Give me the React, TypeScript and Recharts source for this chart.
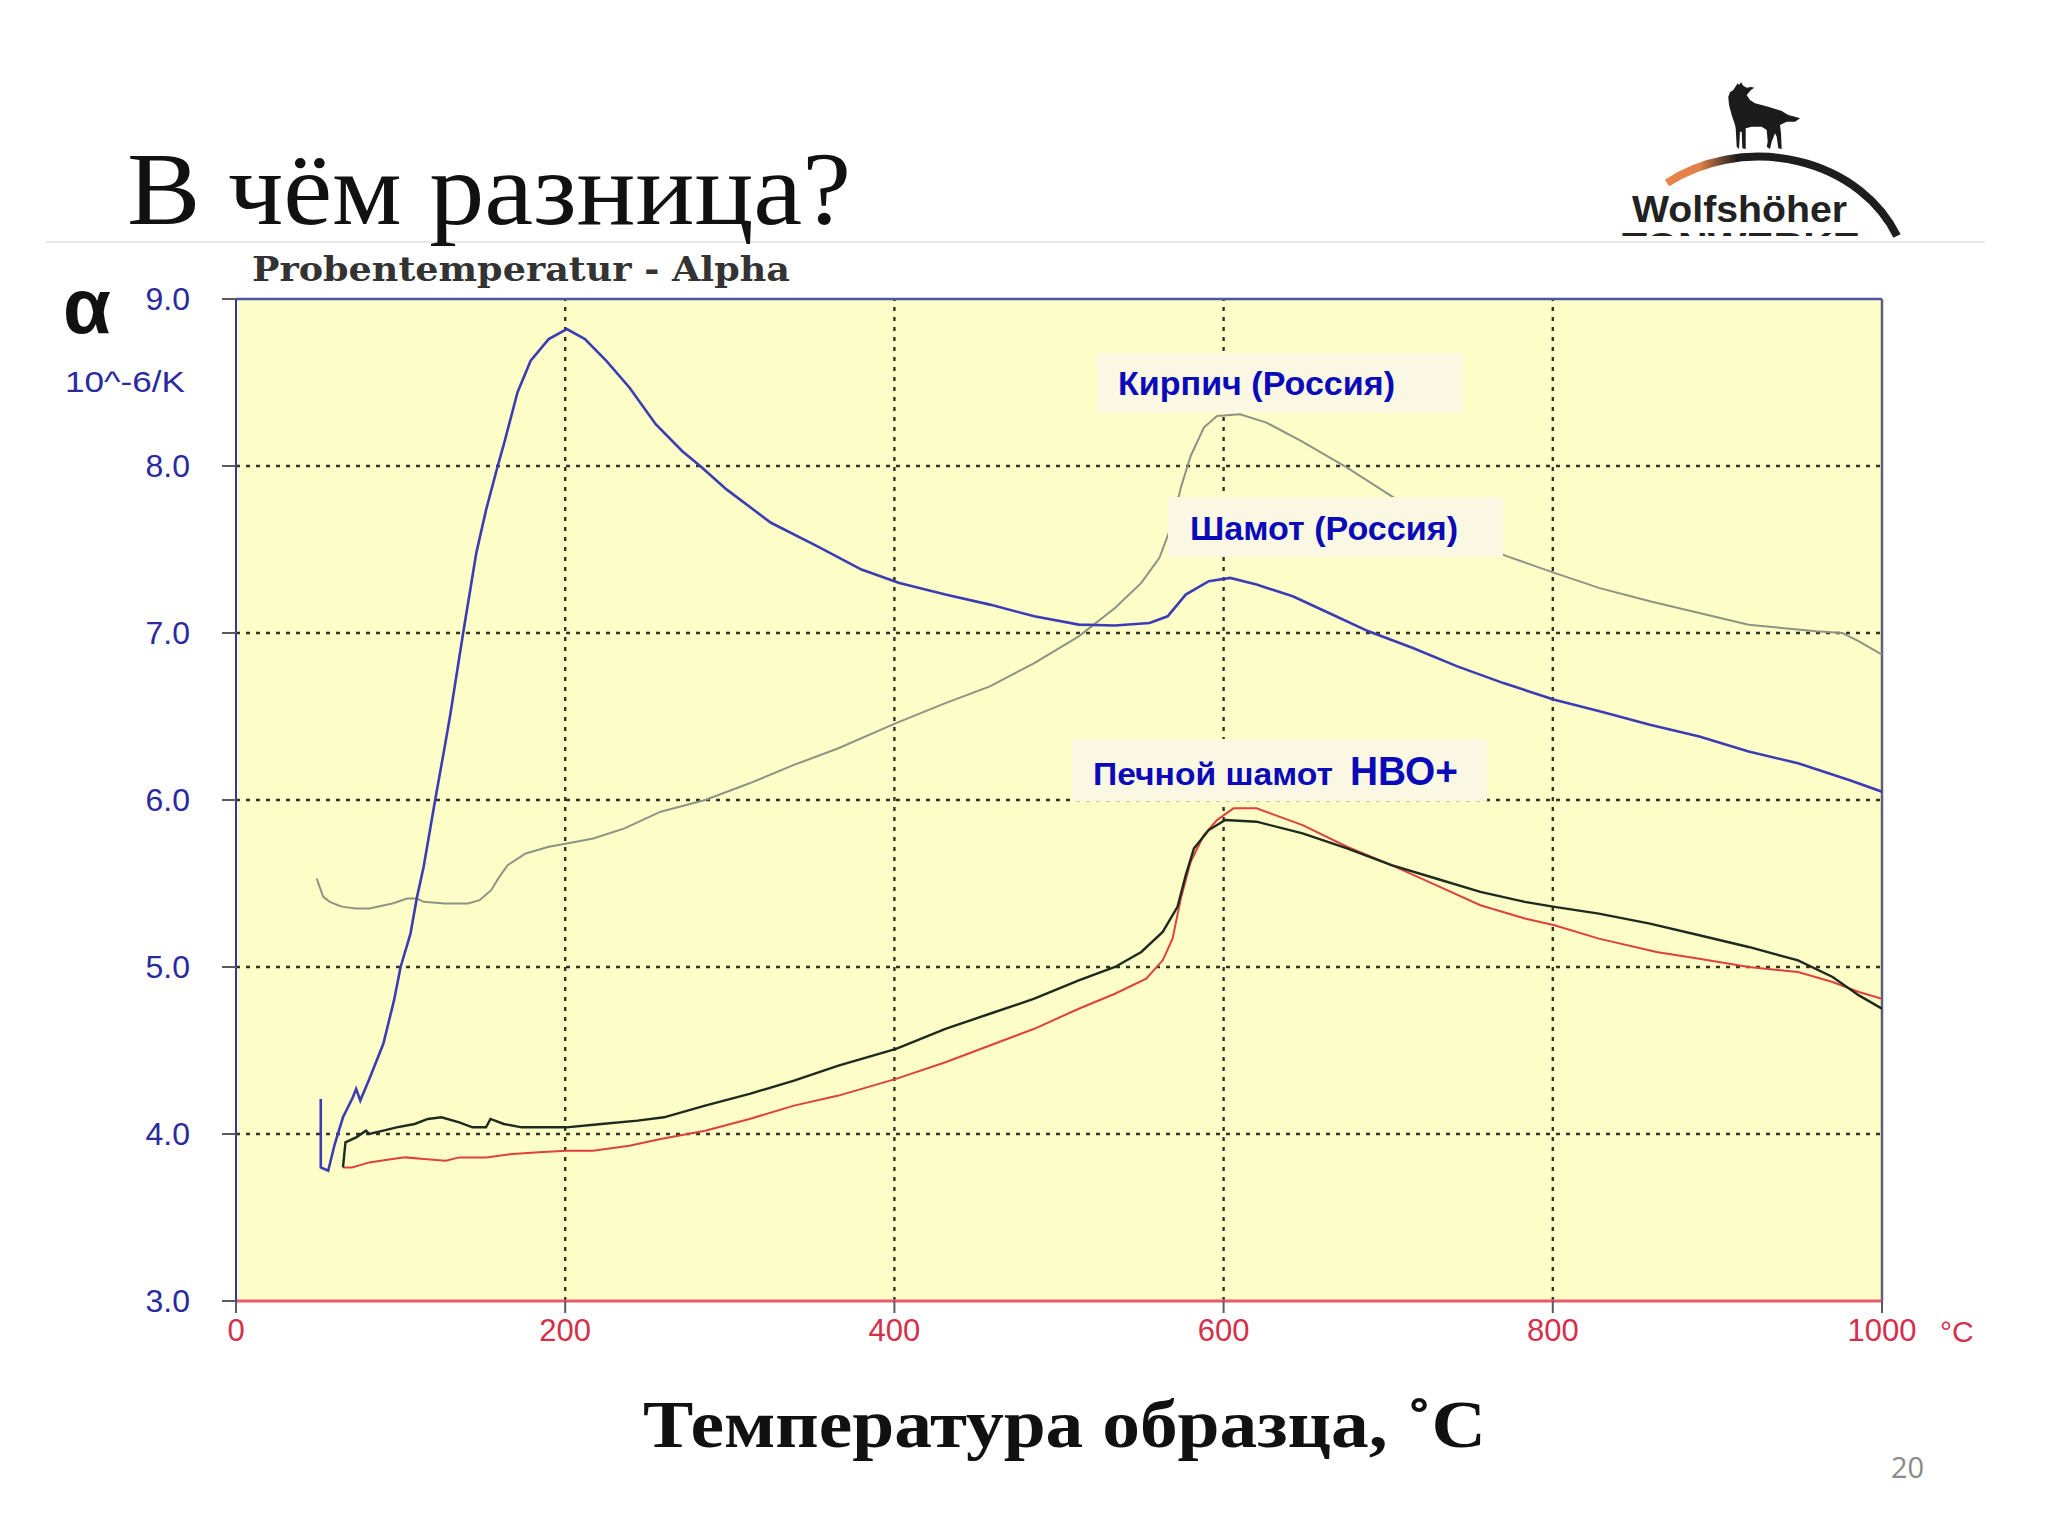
import React from 'react';
import { LineChart, Line, XAxis, YAxis, CartesianGrid, ReferenceLine } from 'recharts';

// axis ticks and grid positions
const xTicks = [0, 200, 400, 600, 800, 1000];
const yTicks = [3, 4, 5, 6, 7, 8, 9];
const xGrid = [200, 400, 600, 800];
const yGrid = [4, 5, 6, 7, 8];

// [temperature °C, alpha 10^-6/K]
const shamotRussia: [number, number][] = [
  [51.5, 4.21], [51.5, 3.8], [56, 3.78], [60, 3.94], [65, 4.1], [71, 4.22], [73, 4.27], [75.5, 4.2],
  [81, 4.33], [89.5, 4.54], [96, 4.8], [100, 5.0], [106, 5.2], [110, 5.42], [114, 5.6], [121, 6.0],
  [127, 6.33], [130, 6.5], [138, 7.0], [146, 7.48], [152, 7.74], [159, 8.0], [163, 8.14], [171, 8.44],
  [179, 8.63], [190, 8.76], [201, 8.82], [212, 8.76], [225, 8.63], [239, 8.47], [255, 8.25], [271, 8.09],
  [282, 8.0], [298, 7.86], [325, 7.66], [353, 7.52], [380, 7.38], [403, 7.3], [431, 7.23], [458, 7.17],
  [485, 7.1], [512, 7.05], [534, 7.045], [555, 7.06], [566, 7.1], [577, 7.23], [591, 7.31], [604, 7.33],
  [620, 7.29], [642, 7.22], [664, 7.12], [688, 7.01], [715, 6.91], [742, 6.8], [770, 6.7], [801, 6.6],
  [829, 6.53], [859, 6.45], [889, 6.38], [919, 6.29], [949, 6.22], [980, 6.12], [1000, 6.05],
];

const brickRussia: [number, number][] = [
  [49, 5.53], [53, 5.42], [57, 5.39], [62, 5.37], [65, 5.36], [73, 5.35], [81, 5.35], [95, 5.38],
  [104, 5.41], [110, 5.41], [114, 5.39], [127, 5.38], [141, 5.38], [148, 5.4], [155, 5.46], [160, 5.54],
  [165, 5.61], [176, 5.68], [190, 5.72], [201, 5.74], [217, 5.77], [236, 5.83], [258, 5.93], [285, 6.0],
  [312, 6.1], [339, 6.21], [366, 6.31], [401, 6.46], [431, 6.58], [458, 6.68], [485, 6.82], [512, 6.98],
  [534, 7.15], [550, 7.3], [561, 7.45], [569, 7.66], [574, 7.87], [580, 8.06], [588, 8.23], [596, 8.3],
  [610, 8.31], [626, 8.26], [647, 8.15], [675, 7.99], [702, 7.82], [730, 7.66], [750, 7.55], [772, 7.46],
  [801, 7.36], [828, 7.27], [859, 7.19], [889, 7.12], [919, 7.05], [939, 7.03], [960, 7.01], [976, 7.0],
  [986, 6.95], [1000, 6.87],
];

const hboBlack: [number, number][] = [
  [65, 3.8], [66.5, 3.95], [73, 3.98], [79, 4.02], [81, 4.0], [89.5, 4.02], [97.6, 4.04], [108.5, 4.06],
  [116.6, 4.09], [124.8, 4.1], [135.6, 4.07], [143.7, 4.04], [151.9, 4.04], [154.6, 4.09], [162.7, 4.06],
  [173.6, 4.04], [184.4, 4.04], [200.7, 4.04], [222, 4.06], [244, 4.08], [260, 4.1], [285, 4.17],
  [312, 4.24], [339, 4.32], [366, 4.41], [401, 4.51], [431, 4.63], [458, 4.72], [485, 4.81], [512, 4.92],
  [534, 5.0], [550, 5.09], [563, 5.21], [572, 5.36], [577, 5.55], [582, 5.71], [591, 5.82], [601, 5.88],
  [620, 5.87], [648, 5.8], [675, 5.71], [702, 5.61], [729, 5.53], [756, 5.45], [783, 5.39], [801, 5.36],
  [828, 5.32], [859, 5.26], [889, 5.19], [919, 5.12], [949, 5.04], [970, 4.94], [986, 4.83], [1000, 4.75],
];

const hboRed: [number, number][] = [
  [65, 3.8], [70.5, 3.8], [81, 3.83], [95, 3.85], [103, 3.86], [114, 3.85], [127.5, 3.84], [135.6, 3.86],
  [152, 3.86], [168, 3.88], [184, 3.89], [200.7, 3.9], [217, 3.9], [239, 3.93], [258, 3.97], [285, 4.02],
  [312, 4.09], [339, 4.17], [366, 4.23], [401, 4.33], [431, 4.43], [458, 4.53], [485, 4.63], [512, 4.75],
  [534, 4.84], [553, 4.93], [563, 5.04], [569, 5.17], [574, 5.41], [580, 5.63], [588, 5.79], [596, 5.88],
  [606, 5.95], [620, 5.95], [648, 5.85], [675, 5.72], [702, 5.61], [729, 5.49], [756, 5.37], [783, 5.29],
  [801, 5.25], [828, 5.17], [863, 5.09], [889, 5.05], [919, 5.0], [949, 4.97], [970, 4.91], [986, 4.85],
  [1000, 4.81],
];

const toPoints = (rows: [number, number][]) => rows.map(([t, a]) => ({ t, a }));

const BLUE_TXT = '#2a2a9e';
const RED_TXT = '#d4304c';
const LABEL_BLUE = '#0a0ab8';
const SANS = '"Liberation Sans", Arial, sans-serif';
const SERIF = '"Liberation Serif", "Times New Roman", serif';

// logo silhouette
const wolf =
  'M1737.7,83.3 L1733.3,90 L1730,92.3 L1728.3,96.7 L1729,105 L1731.7,115 L1735,125 L1735.7,128.3 ' +
  'L1736.7,146.7 L1739,149 L1740,131.7 L1741.7,131.7 L1742.3,148.3 L1745.7,149 L1745.7,128.3 ' +
  'L1751.7,126.7 L1761.7,126.7 L1766.7,130 L1767.7,141.7 L1766.7,146.7 L1770,149 L1771.7,141.7 ' +
  'L1775,133.3 L1776.7,136.7 L1778.3,148.3 L1781.7,149 L1781,133.3 L1780,125 L1786.7,121.7 ' +
  'L1795,121.7 L1800,118.3 L1795,116.7 L1788.3,115 L1781.7,111 L1768.3,106.7 L1755,103.3 L1750,100 ' +
  'L1746.7,95 L1751,90 L1754.3,87.7 L1751,87 L1746.7,87.7 L1743.3,85.7 L1741,82.3 L1739,85 Z';

const Overlay = () => (
  <svg width={2048} height={1536} style={{ position: 'absolute', left: 0, top: 0, pointerEvents: 'none' }}>
    <defs>
      <linearGradient id="arcGrad" gradientUnits="userSpaceOnUse" x1="1667" y1="0" x2="1900" y2="0">
        <stop offset="0" stopColor="#e8844c" />
        <stop offset="0.14" stopColor="#e0804a" />
        <stop offset="0.3" stopColor="#1e1e1e" />
        <stop offset="1" stopColor="#1e1e1e" />
      </linearGradient>
      <clipPath id="logoClip">
        <rect x={1600} y={0} width={320} height={236} />
      </clipPath>
    </defs>
    <line x1={46} y1={242} x2={1985} y2={242} stroke="#e8e8e8" strokeWidth={2} />
    <text x={127} y={224} fontFamily={SERIF} fontSize={104} fill="#111" textLength={724} lengthAdjust="spacingAndGlyphs">
      В чём разница?
    </text>
    {/* logo */}
    <path d={wolf} fill="#1b1b1b" />
    <path d="M1667,183 A150,128 0 0 1 1897,236" fill="none" stroke="url(#arcGrad)" strokeWidth={8} />
    <text x={1632} y={222} fontFamily={SANS} fontWeight="bold" fontSize={36} fill="#222" textLength={215} lengthAdjust="spacingAndGlyphs">
      Wolfshöher
    </text>
    <g clipPath="url(#logoClip)">
      <text x={1622} y={256} fontFamily={SANS} fontWeight="bold" fontSize={34} fill="#222" textLength={238} lengthAdjust="spacingAndGlyphs">
        TONWERKE
      </text>
    </g>
    <text x={252} y={281} fontFamily='"DejaVu Serif", serif' fontWeight="bold" fontSize={34} fill="#333" textLength={538} lengthAdjust="spacingAndGlyphs">
      Probentemperatur - Alpha
    </text>
    <text x={63} y={333} fontFamily={SANS} fontWeight="bold" fontSize={78} fill="#111">α</text>
    <text x={65} y={392} fontFamily={SANS} fontSize={30} fill={BLUE_TXT} textLength={120} lengthAdjust="spacingAndGlyphs">
      10^-6/K
    </text>
    <text x={1940} y={1342} fontFamily={SANS} fontSize={30} fill={RED_TXT}>°C</text>

    {/* series labels */}
    <rect x={1097} y={353} width={366} height={60} fill="#faf7e3" />
    <text x={1118} y={395} fontFamily={SANS} fontWeight="bold" fontSize={34} fill={LABEL_BLUE} textLength={277} lengthAdjust="spacingAndGlyphs">
      Кирпич (Россия)
    </text>
    <rect x={1168} y={497} width={335} height={60} fill="#faf7e3" />
    <text x={1190} y={540} fontFamily={SANS} fontWeight="bold" fontSize={34} fill={LABEL_BLUE} textLength={268} lengthAdjust="spacingAndGlyphs">
      Шамот (Россия)
    </text>
    <rect x={1072} y={739} width={415} height={62} fill="#faf7e3" />
    <text x={1093} y={785} fontFamily={SANS} fontWeight="bold" fontSize={31} fill={LABEL_BLUE} textLength={240} lengthAdjust="spacingAndGlyphs">
      Печной шамот
    </text>
    <text x={1350} y={785} fontFamily={SANS} fontWeight="bold" fontSize={40} fill={LABEL_BLUE} textLength={108} lengthAdjust="spacingAndGlyphs">
      НВО+
    </text>

    <text x={643} y={1447} fontFamily={SERIF} fontWeight="bold" fontSize={68} fill="#111" textLength={843} lengthAdjust="spacingAndGlyphs">
      Температура образца, ˚C
    </text>
    <text x={1891} y={1478} fontFamily='"Open Sans", sans-serif' fontSize={29} fill="#8a8a8a">20</text>
  </svg>
);

const gridStyle = { stroke: '#333326', strokeWidth: 2.4, strokeDasharray: '4 6' };

export default function App() {
  return (
    <div style={{ position: 'absolute', left: 0, top: 0, width: 2048, height: 1536, background: '#fff', overflow: 'hidden' }}>
      <div style={{ position: 'absolute', left: 0, top: 0 }}>
        <LineChart width={2048} height={1536} margin={{ top: 299, right: 166, bottom: 175, left: 156 }}>
          <CartesianGrid horizontal={false} vertical={false} fill="#fdfdc8" />
          <XAxis
            dataKey="t"
            type="number"
            domain={[0, 1000]}
            ticks={xTicks}
            interval={0}
            allowDataOverflow
            height={60}
            axisLine={{ stroke: '#e85a6a', strokeWidth: 3 }}
            tickLine={{ stroke: '#5a5a5a', strokeWidth: 2 }}
            tickSize={12}
            tickMargin={6}
            tick={{ fill: RED_TXT, fontSize: 31, fontFamily: SANS }}
          />
          <YAxis
            type="number"
            domain={[3, 9]}
            ticks={yTicks}
            interval={0}
            allowDataOverflow
            width={80}
            axisLine={{ stroke: '#3434b0', strokeWidth: 2 }}
            tickLine={{ stroke: '#5a5a5a', strokeWidth: 2 }}
            tickSize={14}
            tickMargin={32}
            tickFormatter={(v: number) => v.toFixed(1)}
            tick={{ fill: BLUE_TXT, fontSize: 32, fontFamily: SANS }}
          />
          {yGrid.map((v) => (
            <ReferenceLine key={'y' + v} y={v} {...gridStyle} />
          ))}
          {xGrid.map((v) => (
            <ReferenceLine key={'x' + v} x={v} {...gridStyle} />
          ))}
          <ReferenceLine y={9} stroke="#4b56a8" strokeWidth={2.5} />
          <ReferenceLine x={1000} stroke="#5a6178" strokeWidth={2.5} />
          <Line data={toPoints(brickRussia)} dataKey="a" type="linear" stroke="#8e9484" strokeWidth={2} dot={false} isAnimationActive={false} />
          <Line data={toPoints(shamotRussia)} dataKey="a" type="linear" stroke="#3c3cb4" strokeWidth={2.6} dot={false} isAnimationActive={false} />
          <Line data={toPoints(hboRed)} dataKey="a" type="linear" stroke="#e0403c" strokeWidth={2} dot={false} isAnimationActive={false} />
          <Line data={toPoints(hboBlack)} dataKey="a" type="linear" stroke="#1e2a1e" strokeWidth={2.4} dot={false} isAnimationActive={false} />
        </LineChart>
      </div>
      <Overlay />
    </div>
  );
}
